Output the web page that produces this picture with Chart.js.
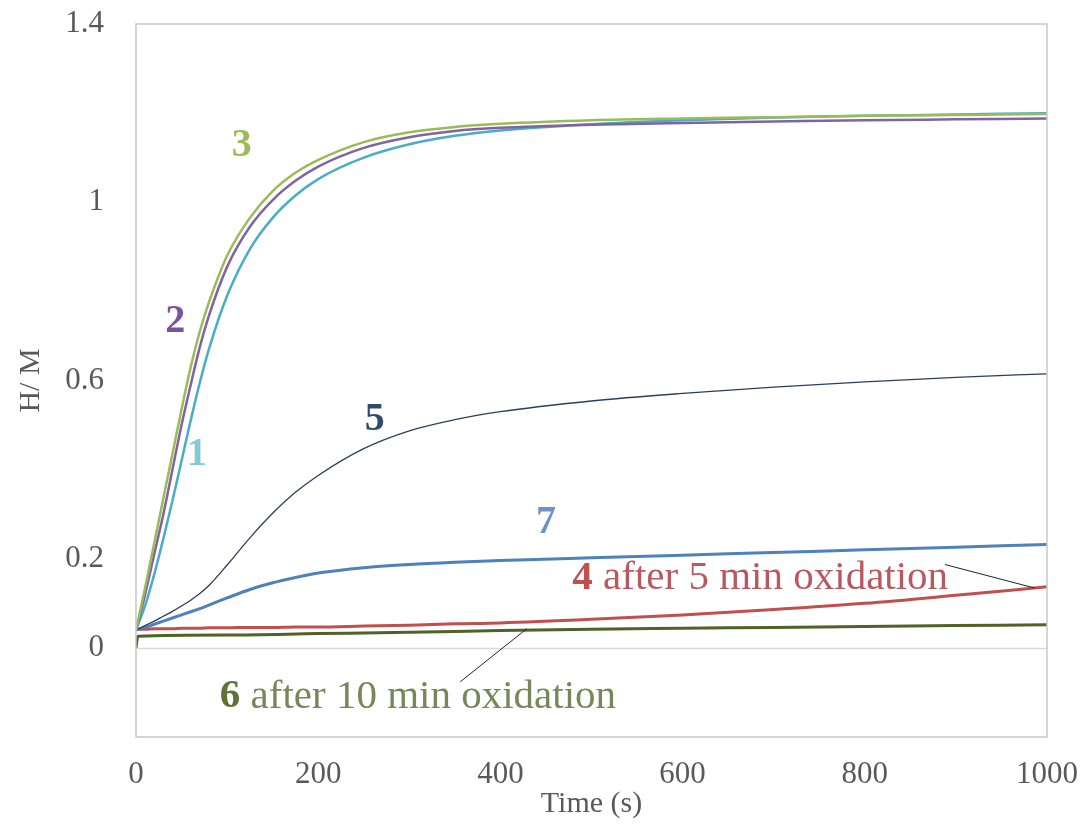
<!DOCTYPE html>
<html>
<head>
<meta charset="utf-8">
<script src="https://cdn.jsdelivr.net/npm/chart.js@4.4.1/dist/chart.umd.min.js"></script>
<style>
  html, body { margin: 0; padding: 0; background: #fff; }
  #wrap { width: 1090px; height: 827px; }
</style>
</head>
<body>
<div id="wrap"><canvas id="chart"></canvas></div>
<script>
// time axis (s) shared by curves 1-5 and 7
const times = [0, 10, 20, 30, 40, 50, 60, 70, 80, 100, 125, 150, 175, 200, 250, 300, 350, 400, 500, 600, 700, 800, 900, 1000];

const curve1 = [0.04, 0.095, 0.165, 0.245, 0.33, 0.42, 0.51, 0.595, 0.67, 0.79, 0.895, 0.965, 1.015, 1.052, 1.1, 1.13, 1.149, 1.161, 1.175, 1.184, 1.19, 1.194, 1.197, 1.2];
const curve2 = [0.04, 0.12, 0.21, 0.30, 0.40, 0.50, 0.59, 0.675, 0.745, 0.855, 0.945, 1.005, 1.048, 1.08, 1.122, 1.146, 1.16, 1.167, 1.174, 1.178, 1.181, 1.184, 1.186, 1.188];
const curve3 = [0.04, 0.135, 0.235, 0.335, 0.435, 0.535, 0.63, 0.71, 0.775, 0.88, 0.965, 1.025, 1.066, 1.095, 1.135, 1.157, 1.169, 1.176, 1.184, 1.188, 1.191, 1.194, 1.196, 1.198];
const curve4 = [0.042, 0.042, 0.043, 0.043, 0.043, 0.044, 0.044, 0.044, 0.045, 0.045, 0.046, 0.046, 0.047, 0.047, 0.049, 0.051, 0.054, 0.056, 0.064, 0.074, 0.086, 0.1, 0.118, 0.137];
const curve5 = [0.04, 0.05, 0.06, 0.071, 0.082, 0.094, 0.107, 0.122, 0.14, 0.186, 0.247, 0.302, 0.349, 0.387, 0.447, 0.487, 0.512, 0.53, 0.554, 0.571, 0.585, 0.597, 0.607, 0.615];
const curve7 = [0.04, 0.046, 0.053, 0.06, 0.067, 0.074, 0.081, 0.088, 0.096, 0.112, 0.131, 0.146, 0.158, 0.168, 0.18, 0.187, 0.192, 0.196, 0.202, 0.208, 0.214, 0.22, 0.226, 0.232];

// curve 6 has its own time points (starts at zero)
const times6 = [0, 2, 100, 200, 300, 400, 500, 600, 700, 800, 900, 1000];
const curve6 = [0, 0.026, 0.029, 0.032, 0.035, 0.039, 0.042, 0.044, 0.046, 0.048, 0.05, 0.052];

const xTickValues = [0, 200, 400, 600, 800, 1000];
const yTickLabels = [0, 0.2, 0.6, 1, 1.4];

const toPoints = (xs, ys) => xs.map((x, i) => ({ x: x, y: ys[i] }));

function lineSet(label, xs, ys, color, width) {
  return {
    label: label,
    data: toPoints(xs, ys),
    borderColor: color,
    borderWidth: width,
    pointRadius: 0,
    fill: false,
    cubicInterpolationMode: 'monotone'
  };
}

const FONT = "'Liberation Serif', 'Times New Roman', serif";

// numbers and captions written next to the curves
const curveLabels = [
  { t: 116, v: 1.126, parts: [{ text: '3', color: '#9bbb59', bold: true }] },
  { t: 43, v: 0.733, parts: [{ text: '2', color: '#7a529f', bold: true }] },
  { t: 67, v: 0.434, parts: [{ text: '1', color: '#86c8d4', bold: true }] },
  { t: 262, v: 0.512, parts: [{ text: '5', color: '#2f4a6d', bold: true }] },
  { t: 450, v: 0.281, parts: [{ text: '7', color: '#6f93c3', bold: true }] },
  { t: 479, v: 0.157, left: true, parts: [{ text: '4', color: '#c0504d', bold: true }, { text: ' after 5 min oxidation', color: '#b9595f' }] },
  { t: 92, v: -0.11, left: true, parts: [{ text: '6', color: '#5e7236', bold: true }, { text: ' after 10 min oxidation', color: '#77875a' }] }
];
const leaders = [
  [[888, 0.187], [987, 0.134]],
  [[429, 0.043], [356, -0.076]]
];

const annotations = {
  id: 'annotations',
  beforeDatasetsDraw(chart) {
    const { ctx, chartArea: a } = chart;
    const ys = chart.scales.y;
    ctx.save();
    ctx.strokeStyle = '#d9d9d9';
    ctx.lineWidth = 1.5;
    const y0 = Math.round(ys.getPixelForValue(0)) + 0.5;
    ctx.beginPath();
    ctx.moveTo(a.left, y0);
    ctx.lineTo(a.right, y0);
    ctx.stroke();
    ctx.restore();
  },
  afterDraw(chart) {
    const { ctx, chartArea: a } = chart;
    const xs = chart.scales.x, ys = chart.scales.y;
    ctx.save();
    ctx.strokeStyle = '#c8c8c8';
    ctx.lineWidth = 1.5;
    ctx.strokeRect(a.left, a.top, a.right - a.left, a.bottom - a.top);

    ctx.strokeStyle = '#222';
    ctx.lineWidth = 1;
    leaders.forEach(l => {
      ctx.beginPath();
      ctx.moveTo(xs.getPixelForValue(l[0][0]), ys.getPixelForValue(l[0][1]));
      ctx.lineTo(xs.getPixelForValue(l[1][0]), ys.getPixelForValue(l[1][1]));
      ctx.stroke();
    });

    ctx.textBaseline = 'middle';
    curveLabels.forEach(lab => {
      let x = xs.getPixelForValue(lab.t);
      const y = ys.getPixelForValue(lab.v);
      const fonts = lab.parts.map(p => (p.bold ? 'bold ' : '') + (lab.left ? '41px ' : '40px ') + FONT);
      let total = 0;
      lab.parts.forEach((p, i) => { ctx.font = fonts[i]; total += ctx.measureText(p.text).width; });
      if (!lab.left) x -= total / 2;
      ctx.textAlign = 'left';
      lab.parts.forEach((p, i) => {
        ctx.font = fonts[i];
        ctx.fillStyle = p.color;
        ctx.fillText(p.text, x, y);
        x += ctx.measureText(p.text).width;
      });
    });
    ctx.restore();
  }
};

// keep the plot box where the reference has it
function noOverflow(scale) {
  scale.paddingTop = 0;
  scale.paddingBottom = 0;
  scale.paddingLeft = 0;
  scale.paddingRight = 0;
}

const ctx = document.getElementById('chart').getContext('2d');
new Chart(ctx, {
  type: 'line',
  data: {
    datasets: [
      lineSet('3', times, curve3, '#9bbb59', 2.5),
      lineSet('2', times, curve2, '#8064a2', 2.5),
      lineSet('1', times, curve1, '#4bacc6', 2.5),
      lineSet('5', times, curve5, '#2c3e5c', 1.3),
      lineSet('7', times, curve7, '#4f81bd', 3),
      lineSet('4', times, curve4, '#c0504d', 3),
      lineSet('6', times6, curve6, '#4f6228', 3)
    ]
  },
  options: {
    responsive: true,
    maintainAspectRatio: false,
    animation: false,
    layout: { padding: { top: 24, right: 43, left: 0, bottom: 0 } },
    plugins: {
      legend: { display: false },
      tooltip: { enabled: false }
    },
    scales: {
      x: {
        type: 'linear',
        min: 0,
        max: 1000,
        afterBuildTicks: (axis) => { axis.ticks = xTickValues.map(v => ({ value: v })); },
        afterFit: (scale) => { scale.height = 90; noOverflow(scale); },
        ticks: {
          padding: 19,
          color: '#595959',
          maxRotation: 0,
          font: { family: FONT, size: 31 },
          callback: (value) => String(value)
        },
        title: {
          display: true,
          text: 'Time (s)',
          color: '#595959',
          padding: { top: 0, bottom: 5 },
          font: { family: FONT, size: 30 }
        },
        grid: { display: false, drawTicks: false },
        border: { display: false }
      },
      y: {
        min: -0.2,
        max: 1.4,
        afterFit: (scale) => { scale.width = 136; noOverflow(scale); },
        ticks: {
          stepSize: 0.2,
          padding: 32,
          color: '#595959',
          font: { family: FONT, size: 31 },
          callback: (value) => {
            const hit = yTickLabels.find(v => Math.abs(v - value) < 1e-6);
            return hit === undefined ? '' : String(hit);
          }
        },
        title: {
          display: true,
          text: 'H/ M',
          color: '#595959',
          padding: { top: 13, bottom: 0 },
          font: { family: FONT, size: 30 }
        },
        grid: { display: false, drawTicks: false },
        border: { display: false }
      }
    }
  },
  plugins: [annotations]
});
</script>
</body>
</html>
